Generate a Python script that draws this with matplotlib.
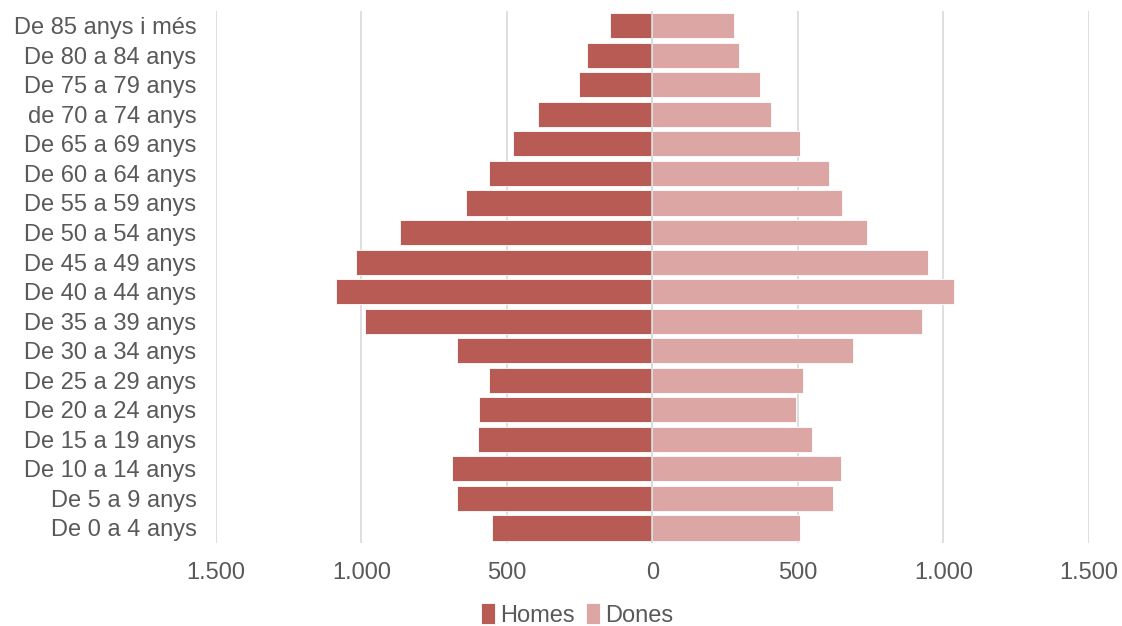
import matplotlib.pyplot as plt
from matplotlib.ticker import FuncFormatter
import numpy as np

plt.rcParams['font.family'] = ['Liberation Sans', 'DejaVu Sans']

# age groups, bottom to top
grups = ['De 0 a 4 anys', 'De 5 a 9 anys', 'De 10 a 14 anys', 'De 15 a 19 anys',
         'De 20 a 24 anys', 'De 25 a 29 anys', 'De 30 a 34 anys', 'De 35 a 39 anys',
         'De 40 a 44 anys', 'De 45 a 49 anys', 'De 50 a 54 anys', 'De 55 a 59 anys',
         'De 60 a 64 anys', 'De 65 a 69 anys', 'de 70 a 74 anys', 'De 75 a 79 anys',
         'De 80 a 84 anys', 'De 85 anys i més']
homes = [552, 670, 688, 600, 595, 562, 672, 987, 1088, 1018, 866, 641, 560, 478, 394, 254, 225, 146]
dones = [506, 622, 647, 549, 492, 516, 688, 928, 1038, 947, 739, 651, 607, 506, 406, 368, 296, 280]

COLOR_HOMES = '#B85B55'
COLOR_DONES = '#DBA6A3'
TEXT_COLOR = '#595959'

fig = plt.figure(figsize=(11.22, 6.26), dpi=100)
ax = fig.add_axes([0.1925, 0.133, 0.778, 0.8495])

y = np.arange(len(grups))
ax.barh(y, -np.array(homes), height=0.85, color=COLOR_HOMES, edgecolor='white',
        linewidth=0.6, label='Homes', zorder=3)
ax.barh(y, dones, height=0.85, color=COLOR_DONES, edgecolor='white',
        linewidth=0.6, label='Dones', zorder=3)

ax.set_xlim(-1500, 1500)
ax.set_ylim(-0.5, len(grups) - 0.5)
ax.set_xticks([-1500, -1000, -500, 0, 500, 1000, 1500])
ax.xaxis.set_major_formatter(FuncFormatter(lambda v, p: f"{abs(int(v)):,}".replace(',', '.')))
ax.set_yticks(y)
ax.set_yticklabels(grups)

ax.grid(axis='x', color='#D9D9D9', linewidth=1.2, zorder=0)
ax.axvline(0, color='#D9D9D9', linewidth=1.2, zorder=4)
for s in ax.spines.values():
    s.set_visible(False)
ax.tick_params(axis='both', length=0, labelsize=17, colors=TEXT_COLOR)
ax.tick_params(axis='y', pad=14)
ax.tick_params(axis='x', pad=14)

handles, labels = ax.get_legend_handles_labels()
leg = fig.legend(handles, labels, loc='center', bbox_to_anchor=(577 / 1122, 1 - 615 / 626),
                 ncol=2, frameon=False, fontsize=17, handlelength=0.6, handleheight=1.0,
                 handletextpad=0.2, columnspacing=0.5, borderpad=0)
for t in leg.get_texts():
    t.set_color(TEXT_COLOR)

plt.savefig('out.png', dpi=100)
